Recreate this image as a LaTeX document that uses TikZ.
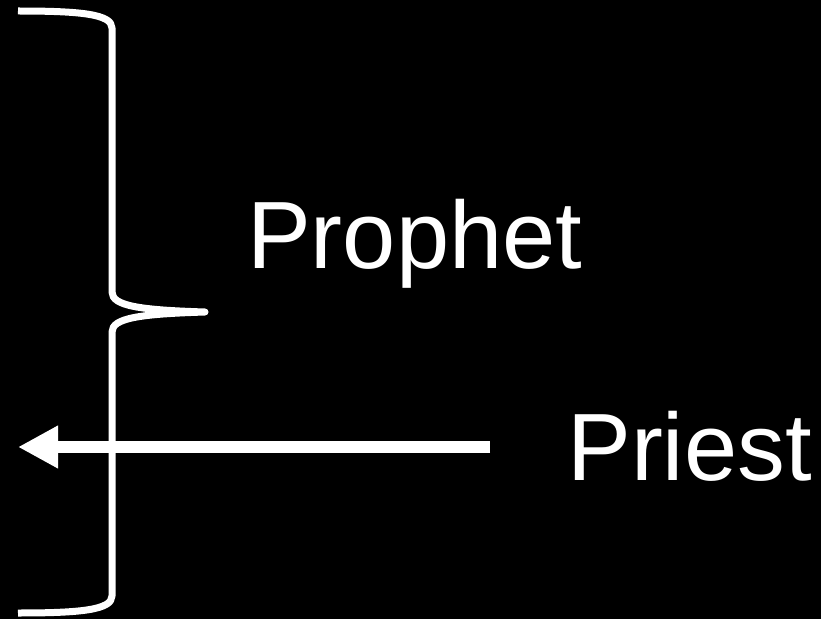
\documentclass[tikz,border=0pt]{standalone}
\usepackage{fontspec}
\setmainfont{Liberation Sans}
\usetikzlibrary{arrows.meta}

\begin{document}
\begin{tikzpicture}[
    x=1bp, y=-1bp,
    label/.style={
        inner sep=0pt,
        anchor=base west,
        text=white,
        font=\fontsize{96}{110}\selectfont
    },
    bracepath/.style={
        draw=white,
        line width=7bp,
        line join=round
    },
    pointer/.style={
        draw=white,
        line width=12bp,
        -{Triangle[length=40bp,width=40bp]}
    }
]
\useasboundingbox [fill=black] (0,0) rectangle (821,619);
% brace
\draw [bracepath] (18,11) .. controls (80,11) and (112,14) .. (112,28)
    -- (112,292) .. controls (112,306) and (140,310) .. (205,312)
    .. controls (140,314) and (112,318) .. (112,332)
    -- (112,596) .. controls (112,610) and (80,613) .. (18,613);
\node (prophet) [label] at (247,268) {Prophet};
\node (priest) [label] at (567,480) {Priest};
\coordinate (arrowstart) at (490,447);
\coordinate (arrowend) at (18,447);
\draw [pointer] (arrowstart) -- (arrowend);
\end{tikzpicture}
\end{document}
